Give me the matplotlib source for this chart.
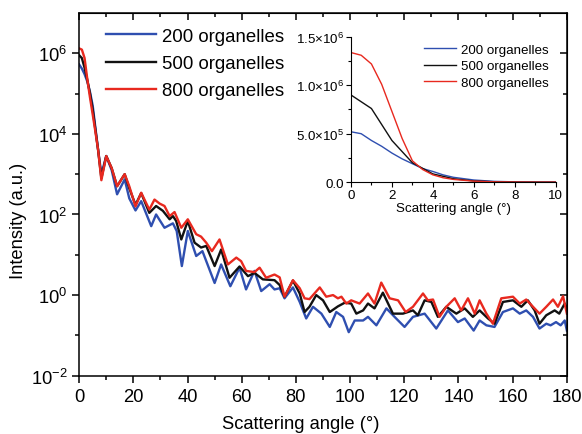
import numpy as np
import matplotlib
matplotlib.use("Agg")
import matplotlib.pyplot as plt
from matplotlib.ticker import MultipleLocator, FixedLocator, FixedFormatter, NullFormatter

plt.rcParams['font.family'] = ['Liberation Sans', 'DejaVu Sans']
plt.rcParams['mathtext.fontset'] = 'custom'
plt.rcParams['mathtext.rm'] = 'Liberation Sans'
plt.rcParams['mathtext.it'] = 'Liberation Sans'

BLUE = '#2f4fb0'
BLACK = '#111111'
RED = '#e8291f'

labels = ['200 organelles', '500 organelles', '800 organelles']

# main plot: angle (deg) and log10(intensity)
ang_200 = [0, 1, 2, 3, 4, 5, 6, 7, 8.2, 10, 12, 14, 16.8, 18.5, 20.8, 22.9, 26.6, 28.4, 31.5, 34.6,
           36, 37.9, 40.1, 43.2, 45.5, 50, 52.4, 55.8, 59.2, 61.6, 64.7, 67.2, 70.3, 72.1, 74, 75.8,
           78.9, 81.4, 83.8, 86.3, 89.4, 92.5, 94.9, 97.4, 99.5, 101.7, 104.8, 106.6, 109.7, 113.4,
           116.4, 120.1, 123.2, 127.5, 131.8, 136.1, 139.8, 142.3, 145.6, 147.8, 150.3, 153.3, 156.4,
           160.1, 162.6, 165, 167.5, 169.9, 172.4, 174, 176, 177.7, 179.2, 180]
log_200 = [5.72, 5.62, 5.48, 5.30, 5.04, 4.70, 4.15, 3.6, 3.0, 3.45, 3.1, 2.5, 2.87, 2.4, 2.1, 2.33,
           1.71, 2.0, 1.67, 1.78, 1.59, 0.72, 1.59, 0.97, 1.09, 0.3, 0.76, 0.22, 0.68, 0.14, 0.6, 0.10,
           0.27, 0.14, 0.17, -0.08, 0.19, -0.17, -0.58, -0.29, -0.46, -0.79, -0.42, -0.54, -0.92, -0.63,
           -0.63, -0.54, -0.75, -0.33, -0.54, -0.79, -0.54, -0.46, -0.83, -0.38, -0.67, -0.58, -0.88,
           -0.63, -0.75, -0.79, -0.42, -0.33, -0.46, -0.38, -0.54, -0.83, -0.71, -0.75, -0.67, -0.75,
           -0.63, -0.88]

ang_500 = [0, 1, 2, 3, 4, 5, 6, 7, 8.2, 10, 12, 14, 16.8, 18.5, 20.8, 22.9, 25.9, 28.4, 30.9, 33.4,
           34.6, 35.8, 37.7, 40.1, 42.6, 45, 46.9, 50, 52.4, 55.5, 59.2, 62.3, 64.7, 67.8, 72.1, 74,
           75.8, 78.9, 81.4, 83.2, 85, 87.5, 90, 92.5, 95.5, 98, 100.4, 102.3, 104.8, 106.6, 109, 112.1,
           115.8, 119.5, 123.2, 125, 127.5, 130, 132.4, 135.5, 139.2, 142.3, 145.3, 147.8, 150.9,
           153.3, 156.4, 160.1, 163.2, 165.6, 168.1, 169.9, 172.4, 175.5, 177.2, 179.2, 180]
log_500 = [5.95, 5.88, 5.64, 5.34, 5.0, 4.6, 4.1, 3.6, 2.9, 3.45, 3.15, 2.7, 3.0, 2.65, 2.24, 2.53,
           2.04, 2.21, 2.09, 1.88, 1.96, 1.84, 1.38, 1.84, 1.30, 1.18, 1.22, 0.72, 1.13, 0.43, 0.71,
           0.47, 0.55, 0.39, 0.37, 0.25, -0.04, 0.36, 0.04, -0.42, -0.29, 0, -0.13, -0.42, -0.28, -0.19,
           -0.21, -0.46, -0.38, -0.21, -0.33, 0.06, -0.46, -0.46, -0.38, -0.5, -0.13, -0.17, -0.54,
           -0.29, -0.46, -0.33, -0.54, -0.38, -0.58, -0.71, -0.17, -0.13, -0.29, -0.13, -0.38, -0.71,
           -0.5, -0.38, -0.46, -0.21, -0.33]

ang_800 = [0, 1, 2, 3, 4, 5, 6, 7, 8.2, 10, 12, 14, 16.8, 18.5, 20.8, 22.9, 25.9, 27.8, 29.7, 31.5,
           33.4, 35.2, 37.7, 40.1, 43.2, 45, 46.9, 49, 51.8, 54.9, 58, 59.8, 61.6, 64.7, 66.6, 69,
           72.1, 74, 75.8, 78.9, 81.4, 83.2, 85, 88.8, 91.2, 93.7, 95.5, 96.8, 98.6, 100.4, 103.5,
           106.6, 109, 111.5, 114.6, 117.7, 120.5, 123.2, 126.9, 128.7, 130.6, 133, 135.5, 138.6, 141,
           143.5, 146, 147.8, 150.3, 152.7, 155.8, 160.1, 162.6, 165, 167.5, 169.9, 172.4, 174.9,
           176.7, 178.6, 180]
log_800 = [6.12, 6.09, 5.88, 5.36, 4.9, 4.48, 4.05, 3.6, 2.85, 3.45, 3.15, 2.7, 3.0, 2.7, 2.2, 2.54,
           2.12, 2.37, 2.27, 2.21, 1.96, 2.06, 1.67, 1.88, 1.51, 1.45, 1.30, 1.09, 1.38, 0.76, 0.93,
           0.84, 0.60, 0.57, 0.68, 0.43, 0.51, 0.44, -0.04, 0.37, 0.17, -0.08, -0.1, 0.19, -0.04, 0,
           -0.08, -0.04, -0.21, -0.13, -0.21, 0.04, -0.21, 0.31, -0.08, -0.13, -0.42, -0.29, 0.04,
           -0.13, -0.11, -0.54, -0.29, -0.08, -0.38, -0.08, -0.46, -0.13, -0.46, -0.71, -0.08, -0.04,
           -0.21, -0.11, -0.29, -0.46, -0.29, -0.11, -0.29, -0.03, -0.46]

# inset: linear intensity near forward direction (units of 1e6)
ins_ang_fine = [0, 0.5, 1, 1.5, 2, 2.5, 3, 3.5, 4, 4.5, 5, 6, 7, 8, 9, 10]
ins_200 = [0.52, 0.50, 0.43, 0.37, 0.30, 0.24, 0.19, 0.14, 0.11, 0.075, 0.05, 0.022, 0.008, 0.003, 0.001, 0.0]
ins_800 = [1.338, 1.31, 1.22, 1.01, 0.73, 0.45, 0.22, 0.13, 0.075, 0.045, 0.028, 0.01, 0.003, 0.001, 0.0, 0.0]
ins_ang_500 = [0, 1, 2, 3, 4, 5, 6, 7, 8, 9, 10]
ins_500 = [0.90, 0.76, 0.43, 0.20, 0.085, 0.035, 0.012, 0.004, 0.001, 0.0, 0.0]

FS = 13.2

fig = plt.figure(figsize=(5.82, 4.35), dpi=100)
ax = fig.add_axes([0.136, 0.134, 0.838, 0.834])

series = [(ang_200, log_200, BLUE), (ang_500, log_500, BLACK), (ang_800, log_800, RED)]
for (a, l, c), lab in zip(series, labels):
    ax.plot(a, 10 ** np.array(l), color=c, lw=1.7, label=lab, solid_joinstyle='round')

ax.set_yscale('log')
ax.set_xlim(0, 180)
ax.set_ylim(1e-2, 1e7)
ax.xaxis.set_major_locator(MultipleLocator(20))
ax.xaxis.set_minor_locator(MultipleLocator(10))
ax.yaxis.set_major_locator(FixedLocator([1e-2, 1e0, 1e2, 1e4, 1e6]))
ax.yaxis.set_major_formatter(FixedFormatter([r'$\mathregular{10^{-2}}$', r'$\mathregular{10^{0}}$',
                                             r'$\mathregular{10^{2}}$', r'$\mathregular{10^{4}}$',
                                             r'$\mathregular{10^{6}}$']))
ax.yaxis.set_minor_locator(FixedLocator([1e-1, 1e1, 1e3, 1e5]))
ax.yaxis.set_minor_formatter(NullFormatter())
ax.tick_params(which='both', direction='out', labelsize=FS, width=1.1)
ax.tick_params(which='major', length=5)
ax.tick_params(which='minor', length=3)
for s in ax.spines.values():
    s.set_linewidth(1.1)

# mirrored ticks on top and right
top = ax.secondary_xaxis('top')
top.xaxis.set_major_locator(MultipleLocator(20))
top.xaxis.set_minor_locator(MultipleLocator(10))
top.tick_params(which='both', direction='in', labeltop=False, width=1.1)
top.tick_params(which='major', length=5)
top.tick_params(which='minor', length=3)
right = ax.secondary_yaxis('right')
right.yaxis.set_major_locator(FixedLocator([1e-2, 1e0, 1e2, 1e4, 1e6]))
right.yaxis.set_minor_locator(FixedLocator([1e-1, 1e1, 1e3, 1e5]))
right.tick_params(which='both', direction='in', labelright=False, width=1.1)
right.tick_params(which='major', length=5)
right.tick_params(which='minor', length=3)

ax.set_xlabel('Scattering angle (°)', fontsize=FS, labelpad=2)
ax.xaxis.set_label_coords(0.455, -0.108)
ax.set_ylabel('Intensity (a.u.)', fontsize=FS, labelpad=2)
ax.yaxis.set_label_coords(-0.107, 0.43)
ax.legend(loc='upper left', bbox_to_anchor=(0.025, 1.0), frameon=False, fontsize=13.4,
          handlelength=2.7, handletextpad=0.3, labelspacing=0.55, borderaxespad=0.4)

# inset
IFS = 9.6
ins = fig.add_axes([0.603, 0.579, 0.352, 0.334])
ins.plot(ins_ang_fine, np.array(ins_200) * 1e6, color=BLUE, lw=1.0, label=labels[0])
ins.plot(ins_ang_500, np.array(ins_500) * 1e6, color=BLACK, lw=1.0, label=labels[1])
ins.plot(ins_ang_fine, np.array(ins_800) * 1e6, color=RED, lw=1.0, label=labels[2])
ins.set_xlim(0, 10)
ins.set_ylim(0, 1.5e6)
ins.xaxis.set_major_locator(MultipleLocator(2))
ins.xaxis.set_minor_locator(MultipleLocator(1))
ins.yaxis.set_major_locator(FixedLocator([0, 5e5, 1e6, 1.5e6]))
ins.yaxis.set_major_formatter(FixedFormatter(['0.0', r'$\mathregular{5.0{\times}10^{5}}$',
                                              r'$\mathregular{1.0{\times}10^{6}}$',
                                              r'$\mathregular{1.5{\times}10^{6}}$']))
ins.yaxis.set_minor_locator(MultipleLocator(2.5e5))
ins.spines['top'].set_visible(False)
ins.spines['right'].set_visible(False)
ins.tick_params(which='both', direction='out', labelsize=IFS, pad=1.5, width=0.8)
ins.tick_params(which='major', length=3.5)
ins.tick_params(which='minor', length=2)
ins.set_xlabel('Scattering angle (°)', fontsize=IFS, labelpad=1)
ins.patch.set_alpha(0)
ins.legend(loc='upper right', bbox_to_anchor=(1.0, 1.0), frameon=False, fontsize=IFS,
           handlelength=2.4, handletextpad=0.4, labelspacing=0.3, borderaxespad=0.1)

fig.savefig('out.png', dpi=100)
